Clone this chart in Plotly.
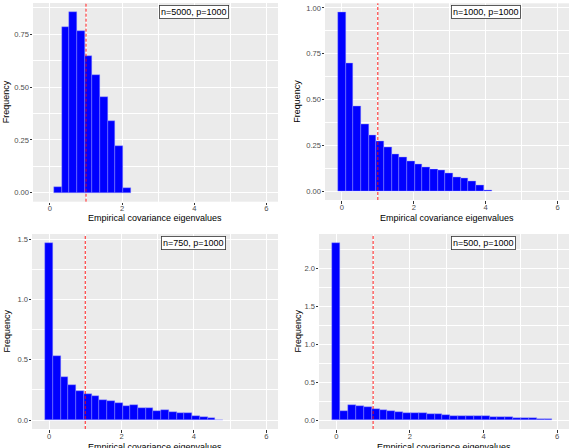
import plotly.graph_objects as go

# ---------------- data ----------------
BINWIDTH = 0.2135          # common histogram bin width (bins centred on k*BINWIDTH)
mp_line_x = 1.0            # dashed reference line
label_x = 4.0              # x position of the n/p label

panel_labels = ["n=5000, p=1000", "n=1000, p=1000", "n=750, p=1000", "n=500, p=1000"]
first_bin = [1, 0, 0, 0]   # index of first non-empty bin in each panel

dens_n5000 = [0.029, 0.784, 0.855, 0.764, 0.648, 0.556, 0.454, 0.338, 0.220, 0.022]
dens_n1000 = [0.976, 0.700, 0.460, 0.367, 0.305, 0.269, 0.237, 0.202, 0.184, 0.164,
              0.146, 0.131, 0.120, 0.111, 0.095, 0.073, 0.069, 0.053, 0.029, 0.004]
dens_n750 = [1.468, 0.531, 0.358, 0.293, 0.241, 0.213, 0.197, 0.167, 0.156, 0.140,
             0.118, 0.123, 0.098, 0.101, 0.076, 0.085, 0.068, 0.063, 0.063, 0.035,
             0.030, 0.014, 0.003]
dens_n500 = [2.336, 0.126, 0.200, 0.192, 0.170, 0.153, 0.135, 0.122, 0.113, 0.100,
             0.096, 0.092, 0.083, 0.078, 0.065, 0.061, 0.057, 0.057, 0.048, 0.048,
             0.044, 0.039, 0.039, 0.030, 0.026, 0.022, 0.017, 0.009]

x_ticks = [0, 2, 4, 6]
x_tick_labels = ["0", "2", "4", "6"]
y_ticks = [[0, 0.25, 0.5, 0.75], [0, 0.25, 0.5, 0.75, 1.0], [0, 0.5, 1.0, 1.5], [0, 0.5, 1.0, 1.5, 2.0]]
y_tick_labels = [["0.00", "0.25", "0.50", "0.75"], ["0.00", "0.25", "0.50", "0.75", "1.00"],
                 ["0.0", "0.5", "1.0", "1.5"], ["0.0", "0.5", "1.0", "1.5", "2.0"]]
y_minor = [0.125, 0.125, 0.25, 0.25]
x_title = "Empirical covariance eigenvalues"
y_title = "Frequency"

all_dens = [dens_n5000, dens_n1000, dens_n750, dens_n500]

# ---------------- layout geometry ----------------
W, H = 572, 448
FONT = "Liberation Sans, Arial, sans-serif"
x_domains = [[33 / W, 278 / W], [325 / W, 569 / W], [32 / W, 278 / W], [319 / W, 569 / W]]
y_domains = [[1 - 201.7 / H, 1 - 3 / H], [1 - 200 / H, 1 - 3.3 / H],
             [1 - 429 / H, 1 - 234 / H], [1 - 429 / H, 1 - 234 / H]]
x_title_y = [1 - 218 / H, 1 - 218 / H, 1 - 446.5 / H, 1 - 446.5 / H]
y_title_x = [6 / W, 297 / W, 6 / W, 297 / W]
x_range = [-0.47, 6.32]

fig = go.Figure()
annotations = []
shapes = []

for i, dens in enumerate(all_dens):
    n = i + 1
    xa = "x" if n == 1 else f"x{n}"
    ya = "y" if n == 1 else f"y{n}"
    xs = [(first_bin[i] + k) * BINWIDTH for k in range(len(dens))]
    fig.add_trace(go.Bar(
        x=xs, y=dens, width=BINWIDTH, xaxis=xa, yaxis=ya,
        marker=dict(color="#0000FF", line=dict(color="rgba(150,150,255,0.8)", width=0.5)),
        showlegend=False, hoverinfo="x+y",
    ))
    M = max(dens)
    axis_common = dict(
        showgrid=True, gridcolor="white", gridwidth=1.1, zeroline=False,
        showline=False, ticks="outside", ticklen=2.5, tickwidth=0.6, tickcolor="#333333",
        tickfont=dict(family=FONT, size=7.6, color="#4D4D4D"), automargin=False,
    )
    fig.update_layout(**{
        ("xaxis" if n == 1 else f"xaxis{n}"): dict(
            axis_common, domain=x_domains[i], range=x_range, anchor=ya,
            tickmode="array", tickvals=x_ticks, ticktext=x_tick_labels,
            ticklabelstandoff=-3,
            minor=dict(tick0=1, dtick=2, showgrid=True, gridcolor="white", gridwidth=0.5, ticks=""),
        ),
        ("yaxis" if n == 1 else f"yaxis{n}"): dict(
            axis_common, domain=y_domains[i], range=[-0.05 * M, 1.05 * M], anchor=xa,
            tickmode="array", tickvals=y_ticks[i], ticktext=y_tick_labels[i],
            ticklabelstandoff=-1,
            minor=dict(tick0=y_minor[i], dtick=2 * y_minor[i], showgrid=True,
                       gridcolor="white", gridwidth=0.5, ticks=""),
        ),
    })
    shapes.append(dict(type="line", xref=xa, yref=f"{ya} domain", x0=mp_line_x, x1=mp_line_x,
                       y0=0, y1=1, line=dict(color="#FF0000", width=0.9, dash="3px,2px")))
    annotations.append(dict(xref=xa, yref=ya, x=label_x, y=M, text=panel_labels[i],
                            showarrow=False, xanchor="center", yanchor="middle",
                            font=dict(family=FONT, size=9, color="black"),
                            bgcolor="white", bordercolor="#333333", borderwidth=0.8, borderpad=1.2))
    annotations.append(dict(xref="paper", yref="paper",
                            x=(x_domains[i][0] + x_domains[i][1]) / 2, y=x_title_y[i],
                            text=x_title, showarrow=False, xanchor="center", yanchor="middle",
                            font=dict(family=FONT, size=9, color="black")))
    annotations.append(dict(xref="paper", yref="paper", x=y_title_x[i],
                            y=(y_domains[i][0] + y_domains[i][1]) / 2,
                            text=y_title, textangle=-90, showarrow=False,
                            xanchor="center", yanchor="middle",
                            font=dict(family=FONT, size=9, color="black")))

fig.update_layout(
    width=W, height=H, margin=dict(l=0, r=0, t=0, b=0),
    paper_bgcolor="white", plot_bgcolor="#EBEBEB",
    bargap=0, shapes=shapes, annotations=annotations,
    font=dict(family=FONT),
)

fig.write_html("out.html")
